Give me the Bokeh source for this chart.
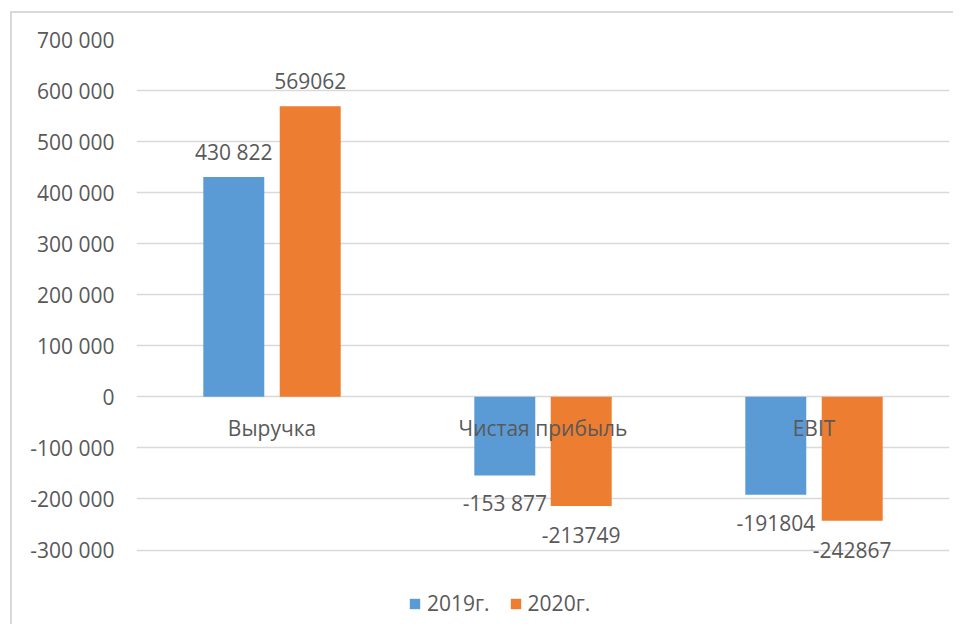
from bokeh.plotting import figure
from bokeh.models import (ColumnDataSource, FactorRange, Range1d, Legend, LegendItem,
                          FixedTicker, CustomJSTickFormatter)
from bokeh.transform import dodge
from bokeh.core.properties import value
from bokeh.embed import file_html
from bokeh.resources import INLINE

# ---- data ----
categories = ["Выручка", "Чистая прибыль", "EBIT"]
series_names = ["2019г.", "2020г."]
values_2019 = [430822, -153877, -191804]
values_2020 = [569062, -213749, -242867]
labels_2019 = ["430 822", "-153 877", "-191804"]
labels_2020 = ["569062", "-213749", "-242867"]
y_ticks = [-300000, -200000, -100000, 0, 100000, 200000, 300000, 400000, 500000, 600000, 700000]

FONT = "Open Sans"
TXT = "#595959"
GRID = "#d9d9d9"
BLUE = "#5B9BD5"
ORANGE = "#ED7D31"
FS = "21px"

# frame extends below the lowest tick so that labels and legend are not clipped
p = figure(x_range=FactorRange(*categories), y_range=Range1d(-440000, 700000),
           x_axis_location=None,
           width=943, height=613, output_backend="svg", toolbar_location=None,
           min_border_left=124, min_border_right=6, min_border_top=26, min_border_bottom=5)
p.styles = {"border-left": "2px solid #d9d9d9", "border-top": "2px solid #d9d9d9",
            "margin-left": "10px", "margin-top": "11px"}
p.outline_line_color = None
p.background_fill_color = "white"
p.border_fill_color = "white"

# grid
p.xgrid.grid_line_color = None
p.ygrid.grid_line_color = GRID
p.ygrid.grid_line_width = 1.5
p.ygrid.ticker = FixedTicker(ticks=y_ticks)

# y axis
p.yaxis.ticker = FixedTicker(ticks=y_ticks)
p.yaxis.formatter = CustomJSTickFormatter(
    code="return Math.round(tick).toString().replace(/\\B(?=(\\d{3})+(?!\\d))/g, ' ');")
p.yaxis.axis_line_color = None
p.yaxis.major_tick_line_color = None
p.yaxis.minor_tick_line_color = None
p.yaxis.major_tick_out = 0
p.yaxis.major_tick_in = 0
p.yaxis.major_label_standoff = 22
p.yaxis.major_label_text_font = FONT
p.yaxis.major_label_text_font_size = FS
p.yaxis.major_label_text_color = TXT

src1 = ColumnDataSource(dict(cat=categories, val=values_2019, lab=labels_2019,
                             off=[-25 if v >= 0 else 28 for v in values_2019]))
src2 = ColumnDataSource(dict(cat=categories, val=values_2020, lab=labels_2020,
                             off=[-25 if v >= 0 else 29 for v in values_2020]))

r1 = p.vbar(x=dodge("cat", -0.141, range=p.x_range), top="val", bottom=0, width=0.225,
            source=src1, fill_color=BLUE, line_color=None)
r2 = p.vbar(x=dodge("cat", 0.141, range=p.x_range), top="val", bottom=0, width=0.225,
            source=src2, fill_color=ORANGE, line_color=None)

# category labels sit just below the zero line (as in the reference)
cat_src = ColumnDataSource(dict(cat=categories, zero=[0] * len(categories)))
p.text(x="cat", y="zero", text="cat", source=cat_src, y_offset=31,
       text_align="center", text_baseline="middle",
       text_font=value(FONT), text_font_size=FS, text_color=TXT)

for src, off in ((src1, -0.141), (src2, 0.141)):
    p.text(x=dodge("cat", off, range=p.x_range), y="val", text="lab", y_offset="off",
           source=src, text_align="center", text_baseline="middle",
           text_font=value(FONT), text_font_size=FS, text_color=TXT)

legend = Legend(items=[LegendItem(label=series_names[0], renderers=[r1]),
                       LegendItem(label=series_names[1], renderers=[r2])],
                orientation="horizontal", location=(272, 4),
                padding=0, margin=0, spacing=19, label_standoff=6,
                glyph_width=13, glyph_height=13,
                label_text_font=FONT, label_text_font_size=FS, label_text_color=TXT,
                border_line_color=None, background_fill_alpha=0)
p.add_layout(legend, "center")

open("out.html", "w").write(file_html(p, INLINE))
